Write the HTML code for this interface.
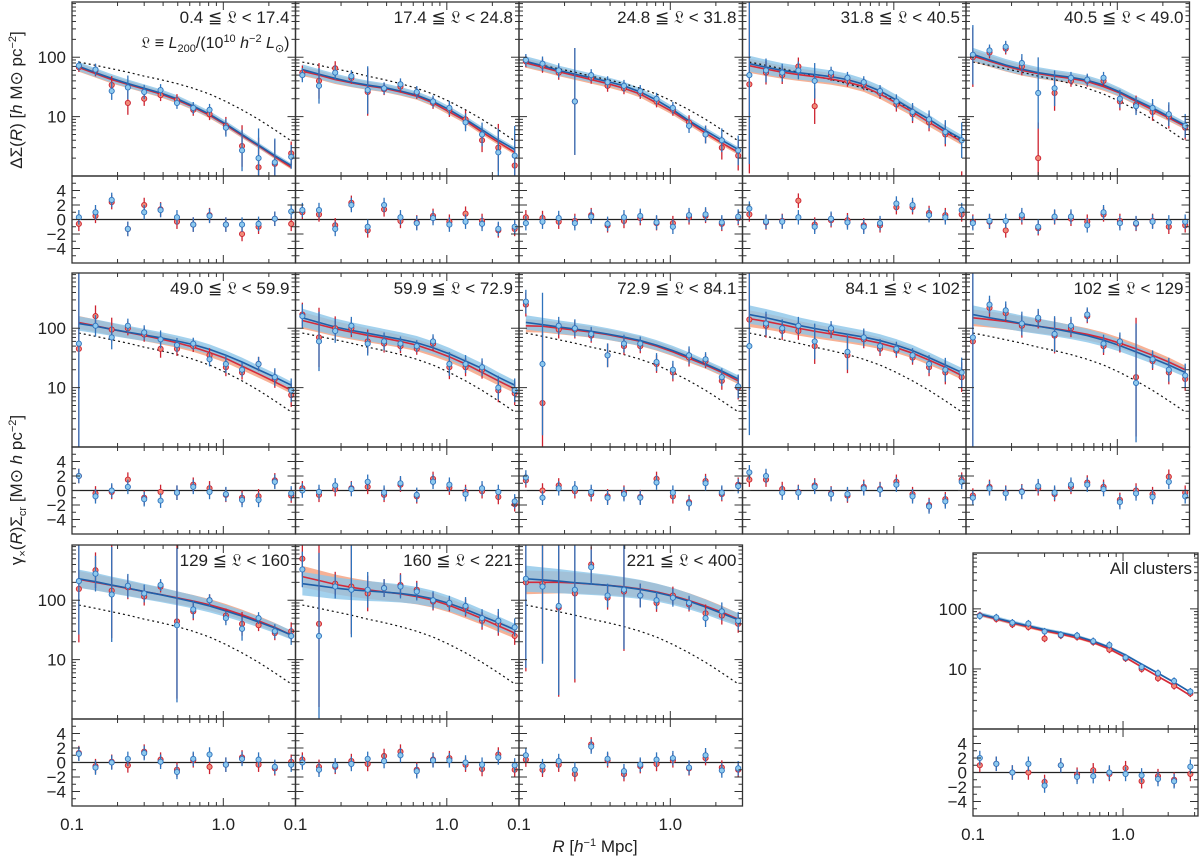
<!DOCTYPE html>
<html><head><meta charset="utf-8"><style>
html,body{margin:0;padding:0;background:#fff;}
svg{display:block;font-family:"Liberation Sans","DejaVu Sans",sans-serif;}
</style></head><body>
<svg id="chart" width="1200" height="860" viewBox="0 0 1200 860" xmlns="http://www.w3.org/2000/svg">
<text transform="translate(22,100) rotate(-90)" text-anchor="middle" font-size="17" fill="#222">ΔΣ(<tspan font-style="italic">R</tspan>) [<tspan font-style="italic">h</tspan> M⊙ pc<tspan dy="-6" font-size="11">−2</tspan><tspan dy="6">]</tspan></text>
<text transform="translate(22,490) rotate(-90)" text-anchor="middle" font-size="17" fill="#222">γ<tspan dy="4" font-size="11">×</tspan><tspan dy="-4">(</tspan><tspan font-style="italic">R</tspan>)Σ<tspan dy="4" font-size="11">cr</tspan><tspan dy="-4"> [M⊙ </tspan><tspan font-style="italic">h</tspan> pc<tspan dy="-6" font-size="11">−2</tspan><tspan dy="6">]</tspan></text>
<text x="595" y="852" text-anchor="middle" font-size="17" fill="#222"><tspan font-style="italic">R</tspan> [<tspan font-style="italic">h</tspan><tspan dy="-6" font-size="11">−1</tspan><tspan dy="6"> Mpc]</tspan></text>
</svg>
<script>
const radii = [0.111,0.143,0.183,0.234,0.300,0.385,0.494,0.633,0.811,1.04,1.33,1.71,2.19,2.81];
const dotted = [83,73,64,56,48,42,36,30,24,18,13,9,6,3.9];
const labels = ['0.4 ≦ 𝔏 < 17.4','17.4 ≦ 𝔏 < 24.8','24.8 ≦ 𝔏 < 31.8','31.8 ≦ 𝔏 < 40.5','40.5 ≦ 𝔏 < 49.0',
'49.0 ≦ 𝔏 < 59.9','59.9 ≦ 𝔏 < 72.9','72.9 ≦ 𝔏 < 84.1','84.1 ≦ 𝔏 < 102','102 ≦ 𝔏 < 129',
'129 ≦ 𝔏 < 160','160 ≦ 𝔏 < 221','221 ≦ 𝔏 < 400','All clusters'];
const blueModel = [
[70,55,44,36,30,25,20,15,11,7.5,5,3.3,2.2,1.5],
[62,52,44,38,34,31,27,23,18,13,9,6,4,2.8],
[85,72,60,52,45,39,33,26,19,13,8.5,5.8,4,2.8],
[78,68,60,55,51,47,42,35,27,19,13,9,6,4.2],
[112,90,74,63,55,50,46,41,34,26,19,14,10,7.2],
[120,108,96,86,77,69,61,53,44,35,27,20,15,11],
[150,125,105,92,82,73,65,57,47,37,28,21,15,11],
[125,115,105,97,89,80,71,62,52,42,33,25,19,14],
[170,150,130,112,99,88,79,71,62,52,42,32,24,18],
[170,150,135,120,108,97,86,75,63,51,40,31,24,18],
[230,205,180,160,140,124,108,94,80,66,54,43,34,26],
[190,175,160,150,143,137,130,120,106,88,70,54,42,32],
[230,220,210,198,188,178,166,152,135,116,96,77,60,47],
[82,70,60,52,45,40,35,29,23,17,12,8.5,6,4.1]];
const redModel = [
[67,53,42,35,29,24,19,14.5,10.5,7.2,4.8,3.2,2.1,1.4],
[58,50,42,37,33,30,26,22,17,12,8.5,5.5,3.7,2.5],
[80,68,57,49,42,36,30,24,17,12,8,5.3,3.6,2.5],
[72,63,56,51,47,43,38,32,24,17,12,8,5.5,3.8],
[105,86,71,60,53,48,44,39,32,25,18,13,9.5,6.8],
[125,110,96,85,75,66,57,48,39,31,23,17,12.5,9],
[135,115,98,86,76,68,60,52,42,33,25,18,13,9.5],
[110,108,100,93,86,78,69,60,50,40,31,24,18,13],
[145,130,115,100,89,80,72,64,56,47,38,29,22,16],
[150,140,130,118,108,99,89,79,68,56,45,35,27,20],
[225,200,178,158,140,125,110,97,84,70,57,45,35,26],
[250,215,185,165,150,138,128,115,100,82,64,49,37,28],
[200,200,200,195,187,178,168,155,138,119,99,80,63,48],
[80,68,58,50,43,38,33,27.5,21.5,15.5,10.8,7.5,5.3,3.6]];
const bluePts = [
[72,62,27,31,26,28,17,14,13,6.5,2.7,2,1.7,2.1],
[50,33,55,48,28,30,35,26,18,14,8,5,2.5,2.2],
[90,78,60,18,50,38,33,27,20,14,7,5,4,2.7],
[50,60,55,60,40,55,45,38,27,18,12,9,5.5,4],
[110,130,150,80,25,30,45,42,45,20,15,14,11,7],
[55,110,70,110,85,65,52,55,30,25,20,25,15,9],
[160,60,90,110,55,60,55,50,60,25,25,22,10,9],
[280,25,110,100,80,35,55,55,27,20,35,30,15,10.5],
[50,120,100,110,60,100,40,70,50,45,35,25,20,18],
[70,250,200,120,150,80,110,170,55,60,12,30,20,16],
[210,280,125,175,130,180,38,70,100,50,33,50,30,25],
[330,25,170,150,150,160,170,140,100,90,80,50,45,35],
[230,170,80,150,360,120,150,120,100,110,90,50,65,45],
[76,72,59,57,42,37,36,29,25,15.5,10.8,8.5,6.3,4.2]];
const redPts = [
[68,60,34,17,20,23,19,13,11,7,3.2,1.4,1.6,2.4],
[55,40,65,45,26,29,32,25,17,13,9,4,3,1.5],
[85,72,55,18,45,33,30,25,18,13,8,5,3,2.2],
[35,55,50,70,15,50,40,35,25,16,11,8,5,0.6],
[100,120,140,70,2,25,40,40,40,18,16,12,10,6.5],
[45,160,95,100,78,45,45,50,35,22,18,25,14,7.5],
[170,70,100,100,60,55,50,45,55,22,22,20,9,8],
[250,5.5,95,95,75,35,50,50,25,18,32,28,13,10],
[140,110,90,90,50,90,35,65,45,42,32,22,18,15],
[60,220,180,110,140,75,100,160,50,55,15,28,18,14],
[155,320,145,165,115,170,44,65,100,55,40,38,28,30],
[500,40,190,170,130,160,180,150,95,85,75,45,40,25],
[200,190,75,130,400,110,140,120,90,120,85,60,55,40],
[78,68,55,50,32,36,34,28,21,15,10,7,5.2,3.9]];
const ptErr = [
[.08,.1,.15,.2,.12,.1,.1,.1,.1,.15,.35,.5,.4,.2],
[.12,.3,.12,.1,.4,.1,.1,.1,.1,.12,.15,.2,.4,.5],
[.1,.12,.12,.9,.1,.1,.1,.1,.1,.1,.12,.15,.2,.25],
[1.5,.2,.15,.15,.3,.1,.1,.1,.1,.12,.15,.15,.2,.3],
[.5,.1,.1,.15,.6,.3,.1,.1,.1,.15,.15,.15,.2,.2],
[2,.18,.2,.12,.12,.15,.12,.1,.12,.15,.12,.12,.15,.2],
[.2,.5,.2,.15,.2,.15,.12,.1,.12,.2,.15,.15,.2,.2],
[.2,1.2,.15,.15,.12,.2,.15,.12,.15,.15,.15,.12,.15,.2],
[1.5,.2,.15,.15,.3,.12,.3,.15,.12,.12,.12,.15,.2,.25],
[2,.15,.15,.2,.15,.3,.15,.12,.15,.15,1,.15,.2,.2],
[.9,.3,.8,.2,.15,.1,1.3,.15,.1,.12,.2,.1,.12,.15],
[.3,1.4,.2,.8,.3,.15,.2,.15,.15,.12,.15,.15,.2,.15],
[1.5,1.3,1.5,1.5,.3,.2,1,.2,.15,.15,.12,.15,.15,.15],
[.06,.06,.06,.06,.06,.06,.06,.06,.06,.06,.06,.06,.06,.06]];
const blueRes = [
[.3,1,2.7,-1.3,1,1.3,.3,-.7,.5,-.7,-.7,-.6,.1,1.1],
[1.3,1.3,-1.3,2,-1,2,.3,-.5,.2,-.7,-.3,-.6,-1.3,-1],
[-.5,-.3,.2,-.5,.4,-.6,.3,.5,-.4,-1,.6,.7,-.4,.4],
[1.5,-.3,-.3,.3,-1,.1,-.4,-1,-.5,2.2,2,.6,.3,1.3],
[-.5,-.2,-.2,.6,-1,.4,.4,-.8,1,-.5,-.5,-.3,-.4,-.3],
[2,-.8,0,.5,-1.2,-1.4,-.3,.5,-.2,-.5,-1.3,-1.3,1.2,-.4],
[0,-.2,.7,.2,1.2,-.3,1,-.6,1.2,.8,-.5,.3,-.2,-1.5],
[1.8,-1,.3,.3,-.2,-1,-.5,-1,1.1,-.3,-1.8,1,-.3,.6],
[2.5,2,-.3,-.3,.5,-.5,-.5,.3,.1,.8,-.8,-2.2,-1.5,1.2],
[-1,.3,-.4,-.2,.6,-.3,.8,.8,.2,-1.6,-.4,-.9,1.2,-.8],
[1.2,-.7,0,.5,1.3,.1,-1.3,.5,1.1,-.3,.5,.4,-.6,-.3],
[0,-1,-.4,-.2,.5,.2,1,-1.2,.3,.3,0,-.3,.7,-.4],
[1,-.5,.2,-1,2.2,.5,-1.2,-.3,.4,.6,-.7,1,-1.1,-.8],
[2,1.2,0,1.2,-1.8,1,-.6,-.5,0,-.2,-.4,-.9,-1.2,.8]];
const redRes = [
[-.6,.5,2.4,-1.3,2,1.4,-.3,-.7,.6,-.7,-2,-1,.1,-.6],
[1,.7,-.8,2.3,-1.5,1.4,-.2,-.4,.5,-.3,.8,-.2,-1.5,-1.3],
[.3,.2,-.3,-.2,.6,-.8,-.2,.2,-.5,-.5,.3,.5,-.6,.2],
[.7,-.4,-.2,2.6,-.7,-.1,-.1,-.8,-.8,1.7,1.7,.9,.6,.7],
[-.3,-.3,-1.5,.3,-1.2,.3,.1,-.3,.7,-.2,-.6,-.2,-1,-.8],
[2,-.4,-.2,1.5,-1,-.2,-.3,.8,.3,-.6,-1,-.8,1.4,-.7],
[.3,-.6,.2,.3,.5,-.6,.8,-.8,1.6,.4,-.2,-.1,-.9,-1.9],
[1.4,0,.7,-.1,-.5,-.8,-.3,-.9,1.6,-.8,-1.6,1.3,-.5,.8],
[1.5,1.5,.2,-.2,.7,-.4,-.7,.5,.2,1.2,-.5,-2,-1.2,1.5],
[-.7,.5,-.3,-.1,.3,-.5,.5,1.1,.5,-1.3,0,-.5,1.9,-.3],
[1.3,-.5,.1,-.4,1.5,.4,-1,.3,-.6,-.3,.7,-.3,-.8,.1],
[.4,-.6,-.6,.2,-.2,.9,1.5,-1,.4,.6,-.3,-.9,1.1,-1],
[.4,-1,-.3,-1.6,2.5,.3,-1.6,-.5,-.2,.3,-.8,.6,-.7,-1],
[1,1.2,0,0,-1.3,1,-.3,.3,-.2,.6,-1.2,-.5,-1,-.2]];
const resErr = 1.0;
const bandDex = [.035,.04,.04,.06,.05,.055,.07,.055,.07,.07,.07,.09,.1,.015];
const xTickLabels = ['0.1','1.0'];
const yTickLabels = ['10','100'];
const resTickLabels = ['4','2','0','−2','−4'];
const resTickValues = [4,2,0,-2,-4];

const NS='http://www.w3.org/2000/svg';
const svg=document.getElementById('chart');
function mk(tag,attrs,parent){const e=document.createElementNS(NS,tag);for(const k in attrs)e.setAttribute(k,attrs[k]);(parent||svg).appendChild(e);return e;}

const colX=[72,295.5,519,742.5,966], rowY=[2,273,545];
const geo=[];
for(let k=0;k<13;k++){geo.push({x:colX[k%5],y:rowY[Math.floor(k/5)],w:223.5,mh:174,rh:87});}
geo.push({x:973,y:553,w:225,mh:176,rh:87});

const XMIN=-1,XMAX=Math.log10(3.0),YMIN=0,YMAX=2.93;

geo.forEach((g,k)=>{
  const xmax = k===13?Math.log10(3.16):XMAX;
  const sx=r=>g.x+(Math.log10(r)-XMIN)/(xmax-XMIN)*g.w;
  const sy=v=>g.y+g.mh-(Math.log10(Math.max(v,1e-3))-YMIN)/(YMAX-YMIN)*g.mh;
  const ry0=g.y+g.mh, ry1=ry0+g.rh;
  const sr=v=>ry0+g.rh/2 - v*(g.rh/12);
  const grp=mk('g',{});
  
  
  const cid='clip'+k, rid='rclip'+k;
  const cp=mk('clipPath',{id:cid},grp); mk('rect',{x:g.x,y:g.y,width:g.w,height:g.mh},cp);
  const rp=mk('clipPath',{id:rid},grp); mk('rect',{x:g.x,y:ry0,width:g.w,height:g.rh},rp);
  const main=mk('g',{'clip-path':'url(#'+cid+')'},grp);
  const res=mk('g',{'clip-path':'url(#'+rid+')'},grp);
  function band(model,color,op,wmul,name){
    let up=[],dn=[];
    model.forEach((v,i)=>{const w=bandDex[k]*wmul*(1+(13-i)/13);up.push(sx(radii[i])+','+sy(v*Math.pow(10,w)));dn.unshift(sx(radii[i])+','+sy(v/Math.pow(10,w)));});
    const p=mk('polygon',{points:up.concat(dn).join(' '),fill:color,'fill-opacity':op,stroke:'none'},main);
    
    
  }
  band(redModel[k],'#f6a98a',0.9,1,'red-model-band');
  band(blueModel[k],'#8cc6e8',0.8,1.1,'blue-model-band');
  function line(model,color,name,dash,wid){
    const l=mk('polyline',{points:model.map((v,i)=>sx(radii[i])+','+sy(v)).join(' '),fill:'none',stroke:color,'stroke-width':wid},main);
    if(dash)l.setAttribute('stroke-dasharray',dash);
    
    
  }
  if(k<13) line(dotted,'#111','reference-dotted-line','2,3',1.2);
  line(redModel[k],'#d42a3a','red-model-line',null,1.6);
  line(blueModel[k],'#1f5fa8','blue-model-line',null,1.6);
  function pts(vals,color,fill,name){
    vals.forEach((v,i)=>{
      const x=sx(radii[i]),e=ptErr[k][i];
      const eb=mk('line',{x1:x,x2:x,y1:sy(v*Math.pow(10,e)),y2:sy(v/Math.pow(10,e)),stroke:color,'stroke-width':1.3},main);
      
      
      const c=mk('circle',{cx:x,cy:sy(v),r:2.6,fill:fill,stroke:color,'stroke-width':0.9},main);
      
      
    });
  }
  pts(redPts[k],'#cc2230','#f08a78','red');
  pts(bluePts[k],'#2f73bd','#8ec9ee','blue');
  const zl=mk('line',{x1:g.x,x2:g.x+g.w,y1:sr(0),y2:sr(0),stroke:'#222','stroke-width':1.3},res);
  
  
  function rpts(vals,color,fill,name){
    vals.forEach((v,i)=>{
      const x=sx(radii[i]);
      const eb=mk('line',{x1:x,x2:x,y1:sr(v+resErr),y2:sr(v-resErr),stroke:color,'stroke-width':1.3},res);
      
      
      const c=mk('circle',{cx:x,cy:sr(v),r:2.6,fill:fill,stroke:color,'stroke-width':0.9},res);
      
      
    });
  }
  rpts(redRes[k],'#cc2230','#f08a78','red');
  rpts(blueRes[k],'#2f73bd','#8ec9ee','blue');
  mk('rect',{x:g.x,y:g.y,width:g.w,height:g.mh,fill:'none',stroke:'#333','stroke-width':1.3},grp);
  mk('rect',{x:g.x,y:ry0,width:g.w,height:g.rh,fill:'none',stroke:'#333','stroke-width':1.3},grp);
  const tk=mk('g',{stroke:'#333','stroke-width':1},grp);
  [0.1,0.2,0.3,0.4,0.5,0.6,0.7,0.8,0.9,1,2,3].forEach(t=>{
    const x=sx(t); if(x>g.x+g.w+0.5)return;
    const L=(t===0.1||t===1)?8:4;
    [[g.y,1],[ry0,-1],[ry0,1],[ry1,-1]].forEach(([yy,d])=>mk('line',{x1:x,x2:x,y1:yy,y2:yy+d*L},tk));
  });
  for(let dec=0;dec<3;dec++)for(let m=1;m<10;m++){
    const v=m*Math.pow(10,dec); const y=sy(v); if(y<g.y)continue;
    const L=m===1?8:4;
    mk('line',{x1:g.x,x2:g.x+L,y1:y,y2:y},tk);mk('line',{x1:g.x+g.w,x2:g.x+g.w-L,y1:y,y2:y},tk);
  }
  for(let v=-5;v<=5;v++){const y=sr(v);const L=v%2===0?8:4;
    mk('line',{x1:g.x,x2:g.x+L,y1:y,y2:y},tk);mk('line',{x1:g.x+g.w,x2:g.x+g.w-L,y1:y,y2:y},tk);}
  const lt=mk('text',{x:g.x+g.w-6,y:g.y+21,'text-anchor':'end','font-size':17,fill:'#222'},grp);
  lt.textContent=labels[k];
  
  
  if(k===0){
    const t2=mk('text',{x:g.x+g.w-6,y:g.y+46,'text-anchor':'end','font-size':16,fill:'#222'},grp);
    t2.innerHTML='𝔏 ≡ <tspan font-style="italic">L</tspan><tspan dy="4" font-size="11">200</tspan><tspan dy="-4">/(10</tspan><tspan dy="-6" font-size="11">10</tspan><tspan dy="6"> </tspan><tspan font-style="italic">h</tspan><tspan dy="-6" font-size="11">−2</tspan><tspan dy="6"> </tspan><tspan font-style="italic">L</tspan><tspan dy="4" font-size="11">⊙</tspan><tspan dy="-4">)</tspan>';
    
    
  }
  if(k%5===0||k===13){
    [10,100].forEach((v,j)=>{const t=mk('text',{x:g.x-6,y:sy(v)+6,'text-anchor':'end','font-size':17,fill:'#222'},grp);t.textContent=yTickLabels[j];
      });
    resTickValues.forEach((v,j)=>{const t=mk('text',{x:g.x-6,y:sr(v)+6,'text-anchor':'end','font-size':17,fill:'#222'},grp);t.textContent=resTickLabels[j];
      });
  }
  if(k>=10){
    [0.1,1].forEach((v,j)=>{const t=mk('text',{x:sx(v),y:ry1+24,'text-anchor':'middle','font-size':17,fill:'#222'},grp);t.textContent=xTickLabels[j];
      });
  }
});
</script>
</body></html>
